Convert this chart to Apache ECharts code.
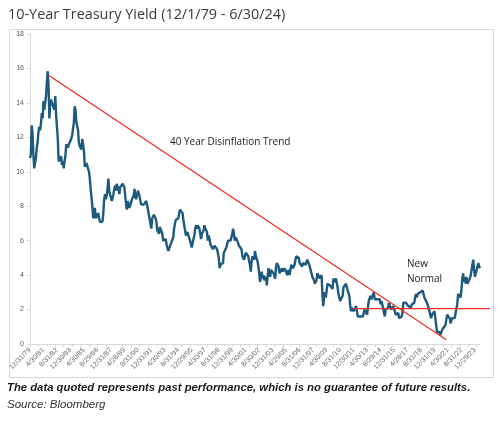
<!DOCTYPE html>
<html><head><meta charset="utf-8">
<script src="https://cdn.jsdelivr.net/npm/echarts@6/dist/echarts.min.js"></script>
<style>html,body{margin:0;padding:0;background:#fff;}#c{width:500px;height:422px;}</style>
</head><body><div id="c"></div>
<script>
// Month-end 10-year Treasury yields (%), Dec 1979 .. Jun 2024
const y1979 = [10.8];
const y1980s = [
 11.0,12.7,12.2,11.0,10.2,10.1,10.8,11.4,11.7,12.3,12.6,12.4,
 12.8,13.4,13.1,14.1,13.6,13.5,14.4,15.2,15.84,15.0,13.1,14.0,
 14.2,14.0,13.9,13.9,13.6,14.4,13.3,12.6,11.9,10.6,10.6,10.5,
 10.9,10.4,10.6,10.2,10.6,10.9,11.6,11.7,11.4,11.6,11.6,11.8,
 11.7,12.1,12.5,12.8,13.8,13.6,12.9,12.8,12.4,11.7,11.5,11.5,
 11.3,11.9,11.6,11.2,10.3,10.2,10.5,10.4,10.4,10.0,9.6,9.0,
 9.1,8.0,7.3,7.3,7.9,7.3,7.4,7.2,7.6,7.3,7.1,7.2,
 7.1,7.1,7.6,8.4,8.7,8.4,8.6,9.0,9.6,8.9,8.9,8.8,
 8.3,8.4,8.7,9.0,9.2,8.9,9.3,9.3,9.0,8.7,9.1,9.1,
 9.0,9.3,9.3,9.1,8.6,8.1,7.8,8.3,8.2,7.9,7.8,7.9
];
const y1990s = [
 8.4,8.5,8.6,9.0,8.6,8.4,8.4,8.9,8.8,8.6,8.3,8.1,
 8.0,8.0,8.1,8.0,8.1,8.3,8.2,7.8,7.5,7.5,7.4,6.7,
 7.3,7.3,7.5,7.5,7.3,7.1,6.6,6.6,6.4,6.8,6.9,6.7,
 6.4,6.0,6.0,6.0,6.1,5.8,5.8,5.4,5.4,5.4,5.8,5.8,
 5.7,6.2,6.7,7.0,7.2,7.3,7.2,7.3,7.6,7.8,7.9,7.8,
 7.6,7.2,7.2,7.1,6.3,6.2,6.5,6.3,6.2,6.0,5.8,5.6,
 5.6,6.1,6.3,6.7,6.9,6.7,6.9,7.0,6.7,6.4,6.1,6.4,
 6.5,6.6,6.9,6.7,6.6,6.5,6.0,6.3,6.1,5.8,5.9,5.7,
 5.5,5.6,5.7,5.7,5.6,5.5,5.5,5.0,4.4,4.6,4.7,4.7,
 4.7,5.3,5.2,5.4,5.6,5.8,6.0,6.0,5.9,6.0,6.2,6.4
];
const y2000s = [
 6.7,6.4,6.0,6.2,6.3,6.0,6.0,5.7,5.8,5.8,5.5,5.1,
 5.2,4.9,4.9,5.3,5.4,5.4,5.1,4.8,4.6,4.2,4.8,5.1,
 5.0,4.9,5.4,5.1,5.1,4.8,4.5,4.1,3.6,3.9,4.2,3.8,
 4.0,3.7,3.8,3.9,3.4,3.5,4.4,4.5,3.9,4.3,4.3,4.3,
 4.1,4.0,3.8,4.5,4.7,4.6,4.5,4.1,4.1,4.0,4.4,4.2,
 4.1,4.4,4.5,4.2,4.0,3.9,4.3,4.0,4.3,4.6,4.5,4.4,
 4.5,4.6,4.9,5.1,5.1,5.1,5.0,4.7,4.6,4.6,4.5,4.7,
 4.8,4.6,4.6,4.6,4.9,5.0,4.8,4.5,4.6,4.5,3.9,4.0,
 3.7,3.5,3.4,3.7,4.1,4.0,4.0,3.8,3.8,4.0,2.9,2.2,
 2.8,3.0,2.7,3.1,3.5,3.5,3.5,3.4,3.3,3.4,3.2,3.8
];
const y2010s = [
 3.6,3.6,3.8,3.7,3.3,2.9,2.9,2.5,2.5,2.6,2.8,3.3,
 3.4,3.4,3.5,3.3,3.1,3.2,2.8,2.2,1.9,2.1,2.1,1.9,
 1.8,2.0,2.2,1.9,1.6,1.6,1.5,1.6,1.6,1.7,1.6,1.8,
 2.0,1.9,1.9,1.7,2.1,2.5,2.6,2.8,2.6,2.6,2.7,3.0,
 2.6,2.7,2.7,2.6,2.5,2.5,2.6,2.3,2.5,2.3,2.2,2.2,
 1.6,2.0,1.9,2.0,2.1,2.4,2.2,2.2,2.0,2.1,2.2,2.3,
 1.9,1.7,1.8,1.8,1.8,1.5,1.5,1.6,1.6,1.8,2.4,2.4,
 2.5,2.4,2.4,2.3,2.2,2.3,2.3,2.1,2.3,2.4,2.4,2.4,
 2.7,2.9,2.7,2.9,2.9,2.9,3.0,2.9,3.1,3.1,3.0,2.7,
 2.6,2.7,2.4,2.5,2.1,2.0,2.0,1.5,1.7,1.7,1.8,1.9
];
const y2020s = [
 1.5,1.1,0.7,0.6,0.7,0.7,0.5,0.7,0.7,0.9,0.8,0.9,
 1.1,1.4,1.7,1.6,1.6,1.5,1.2,1.3,1.5,1.6,1.4,1.5,
 1.8,1.8,2.3,2.9,2.8,3.0,2.7,3.2,3.8,4.1,3.6,3.9,
 3.5,3.9,3.5,3.4,3.6,3.8,4.0,4.1,4.6,4.9,4.3,3.9,
 3.9,4.3,4.2,4.7,4.5,4.4
];
const tickLabels = ['12/31/79','4/30/81','8/31/82','12/30/83','4/30/85','8/29/86','12/31/87','4/28/89','8/31/90','12/31/91','4/30/93','8/31/94','12/29/95','4/30/97','8/31/98','12/31/99','4/30/01','8/30/02','12/31/03','4/29/05','8/31/06','12/31/07','4/30/09','8/31/10','12/30/11','4/30/13','8/29/14','12/31/15','4/28/17','8/31/18','12/31/19','4/30/21','8/31/22','12/29/23'];
// trend lines: [month index from Dec 1979, yield]
const disinflationTrend = [[22, 15.6], [494, 0.25]];
const newNormal = [[384, 2.05], [546, 2.05]];
const overlayMonths = 546; // month span of the overlay scale (reaches the box's right edge)

const yields = [].concat(y1979, y1980s, y1990s, y2000s, y2010s, y2020s);
const months = yields.map((_, i) => {
  const m = (11 + i) % 12, yr = 1979 + Math.floor((11 + i) / 12);
  return (m + 1) + '/' + String(yr % 100).padStart(2, '0');
});

const plotW = 450;
const n = yields.length - 1;
const overlayW = plotW * overlayMonths / n;

const chart = echarts.init(document.getElementById('c'));
chart.setOption({
  animation: false,
  title: {
    text: '10-Year Treasury Yield (12/1/79 - 6/30/24)',
    left: 3, top: 3,
    textStyle: { fontFamily: 'Open Sans', fontSize: 14.4, fontWeight: 'normal', color: '#3a3a3a' }
  },
  grid: [
    { left: 30, width: plotW, top: 34, bottom: 78 },
    { left: 30, width: overlayW, top: 34, bottom: 78 }
  ],
  xAxis: [{
    type: 'category', data: months, boundaryGap: false, gridIndex: 0,
    axisLine: { lineStyle: { color: '#d9d9d9' } },
    axisTick: { interval: 9, length: 3, lineStyle: { color: '#d9d9d9' } },
    axisLabel: {
      interval: 15, rotate: 45, fontSize: 7, color: '#6a6a6a', margin: 5,
      fontFamily: 'Liberation Sans',
      formatter: (v, i) => tickLabels[Math.round(i / 16)] || ''
    }
  }, {
    type: 'value', gridIndex: 1, min: 0, max: overlayMonths, show: false
  }],
  yAxis: [{
    type: 'value', min: 0, max: 18, interval: 2, gridIndex: 0,
    splitLine: { show: false },
    axisLine: { show: true, lineStyle: { color: '#d9d9d9' } },
    axisTick: { show: true, length: 3, lineStyle: { color: '#d9d9d9' } },
    axisLabel: { fontSize: 7, color: '#595959', margin: 6, fontFamily: 'Liberation Sans' }
  }, {
    type: 'value', min: 0, max: 18, gridIndex: 1, show: false
  }],
  series: [
    { type: 'line', data: yields, symbol: 'none', z: 3,
      lineStyle: { color: '#1d5a7e', width: 2.4 } },
    { type: 'line', xAxisIndex: 1, yAxisIndex: 1, data: disinflationTrend, symbol: 'none', z: 4,
      lineStyle: { color: '#ee3124', width: 1.3 } },
    { type: 'line', xAxisIndex: 1, yAxisIndex: 1, data: newNormal, symbol: 'none', z: 4,
      lineStyle: { color: '#ee3124', width: 1.3 } }
  ],
  graphic: [
    { type: 'rect', left: 7, top: 27, z: -1, silent: true,
      shape: { width: 484, height: 348 },
      style: { fill: 'none', stroke: '#d9d9d9', lineWidth: 1 } },
    { type: 'text', left: 170, top: 137,
      style: { text: '40 Year Disinflation Trend', fontFamily: 'Open Sans', fontSize: 10, fill: '#222' } },
    { type: 'text', left: 407, top: 257,
      style: { text: 'New\nNormal', fontFamily: 'Open Sans', fontSize: 10, lineHeight: 15, fill: '#222' } },
    { type: 'text', left: 7, top: 382,
      style: { text: 'The data quoted represents past performance, which is no guarantee of future results.',
        fontFamily: 'Liberation Sans', fontSize: 11.3, fontWeight: 'bold', fontStyle: 'italic', fill: '#1a1a1a' } },
    { type: 'text', left: 7, top: 399,
      style: { text: 'Source: Bloomberg', fontFamily: 'Liberation Sans', fontSize: 11.5, fontStyle: 'italic', fill: '#333' } }
  ]
});
</script></body></html>
